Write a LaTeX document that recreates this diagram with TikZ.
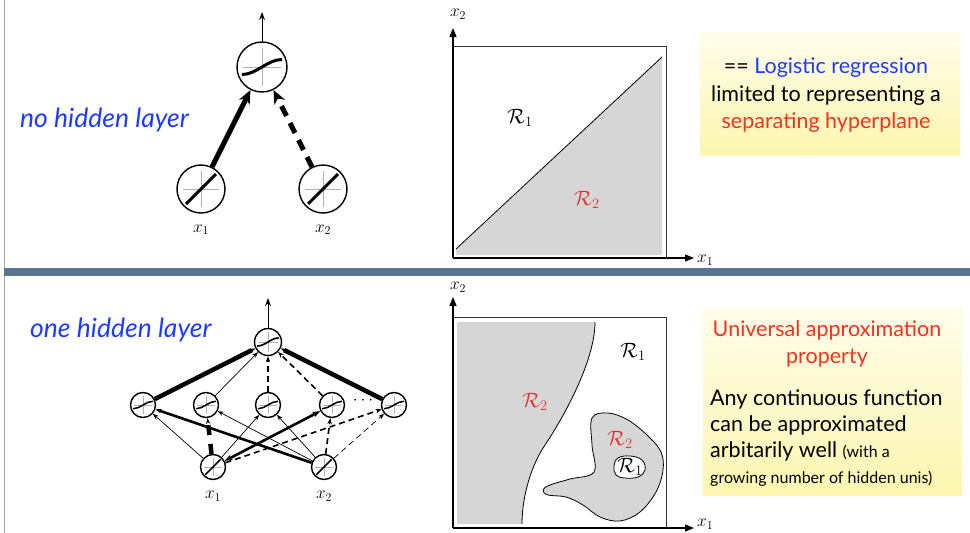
\documentclass[tikz,border=0pt]{standalone}
\usepackage{fontspec}
\setmainfont{Lato}
\usepackage{tikz}
\usetikzlibrary{arrows.meta,positioning,calc}
\definecolor{NetBlue}{HTML}{1E3CFF}
\definecolor{NetRed}{HTML}{F5321E}
\definecolor{RegRed}{HTML}{E0342E}
\definecolor{RegGray}{HTML}{D6D6D6}
\definecolor{BarSlate}{HTML}{5A7391}
\definecolor{NoteTop}{HTML}{FFFDEB}
\definecolor{NoteBot}{HTML}{FCF6B0}
\tikzset{
  neuron/.style={circle,draw,line width=1.4pt,fill=white,inner sep=0pt,minimum size=2*#1},
  inneuron/.style={neuron=#1,path picture={
      \begin{scope}[shift={(path picture bounding box.center)},x=#1pt,y=-#1pt]
        \draw[gray!60,line width=.8pt] (-.75,0)--(.75,0) (0,-.75)--(0,.75);
        \draw[line width=.12pt*#1] (-.62,.62)--(.62,-.62);
      \end{scope}}},
  signeuron/.style={neuron=#1,path picture={
      \begin{scope}[shift={(path picture bounding box.center)},x=#1pt,y=-#1pt]
        \draw[gray!60,line width=.8pt] (-.75,0)--(.75,0) (0,-.75)--(0,.75);
        \draw[line width=.12pt*#1] (-.8,.3) .. controls (-.2,.3) and (.2,-.3) .. (.8,-.3);
      \end{scope}}},
  bigwire/.style={-{Stealth[length=14pt,width=12pt,line width=0pt]},line width=5pt},
  wire/.style={-{Stealth[length=6pt,width=4.5pt,line width=0pt]},line width=.7pt},
  wmid/.style={wire,line width=1.6pt},
  wthick/.style={wire,line width=2.6pt},
  wheavy/.style={wire,line width=4.5pt},
  dashes/.style={dash pattern=on 6pt off 4pt},
  outwire/.style={-{Stealth[length=8pt,width=6pt,line width=0pt]},line width=.8pt},
  axis/.style={line width=1.3pt,-{Triangle[length=9pt,width=7pt]}},
  lab/.style={inner sep=0pt,font=\fontsize{17}{17}\selectfont},
  reg/.style={inner sep=0pt,font=\fontsize{20}{20}\selectfont},
  title/.style={inner sep=0pt,anchor=west,text=NetBlue,font=\fontsize{26.5}{30}\selectfont\itshape},
  notefill/.style={top color=NoteTop,bottom color=NoteBot},
  notetext/.style={inner sep=0pt,font=\fontsize{21.5}{27.5}\selectfont}
}
\begin{document}
\begin{tikzpicture}[x=1pt,y=-1pt]
  \useasboundingbox (0,0) rectangle (970,533);
  \draw[gray!70,line width=1pt] (4,0) -- (4,533);
  \fill[BarSlate] (4,268) rectangle (970,276);

  % no hidden layer
  \node[title] (nohidden) at (20,120) {no hidden layer};
  \node[inneuron=24] (in1) at (201,189) {};
  \node[inneuron=24] (in2) at (323,189) {};
  \node[signeuron=25] (out) at (262,67) {};
  \coordinate (outtip) at (262,12);
  \node[lab,below=11pt of in1] (lx1) {$x_1$};
  \node[lab,below=11pt of in2] (lx2) {$x_2$};
  \draw[outwire] (out) -- (outtip);
  \draw[bigwire] (in1) -- (out);
  \draw[bigwire,dash pattern=on 11pt off 8pt] (in2) -- (out);

  % linear decision boundary
  \fill[RegGray] (456,249) -- (662,57) -- (662,255) -- (456,255) -- cycle;
  \draw[line width=.8pt] (456,249) -- (662,57);
  \draw[black!80,line width=1pt] (453,46) rectangle (666,258);
  \coordinate (o1) at (453,258);
  \coordinate (ya) at (453,28);
  \coordinate (xa) at (694,258);
  \draw[axis] (o1) -- (ya);
  \draw[axis] (o1) -- (xa);
  \node[lab] (ax2) at (458,14) {$x_2$};
  \node[lab,anchor=west] (ax1) at (697,260) {$x_1$};
  \node[reg] (ra1) at (520,118) {$\mathcal{R}_1$};
  \node[reg,text=RegRed] (ra2) at (587,200) {$\mathcal{R}_2$};

  \fill[notefill] (700,32) rectangle (960,155);
  \node[notetext,align=center] (hyp) at (826,95.5)
    {== \textcolor{NetBlue}{Logistic regression}\\limited to representing a\\\textcolor{NetRed}{separating hyperplane}};

  % one hidden layer
  \node[title] (onehidden) at (30,330) {one hidden layer};
  \node[signeuron=13.5] (o) at (268,342) {};
  \foreach \i/\x in {1/143,2/206,3/268,4/332,5/394}
    \node[signeuron=12.5] (h\i) at (\x,405) {};
  \node[inneuron=12.5] (b1) at (213,467) {};
  \node[inneuron=12.5] (b2) at (324,467) {};
  \node[lab,below=11pt of b1] (lb1) {$x_1$};
  \node[lab,below=11pt of b2] (lb2) {$x_2$};
  \node[inner sep=0pt,font=\fontsize{18}{18}\selectfont] (dots) at (363,401) {$\cdots$};
  \coordinate (otip) at (268,298);
  \draw[outwire] (o) -- (otip);
  \draw[wheavy] (h1) -- (o);
  \draw[wire] (h2) -- (o);
  \draw[wmid,dashes] (h3) -- (o);
  \draw[wmid,dashes] (h4) -- (o);
  \draw[wheavy] (h5) -- (o);
  \draw[wire] (b1) -- (h1);
  \draw[wheavy,dash pattern=on 10pt off 9pt] (b1) -- (h2);
  \draw[wire] (b1) -- (h3);
  \draw[wthick,{Stealth[length=8pt,width=6pt,line width=0pt]}-{Stealth[length=8pt,width=6pt,line width=0pt]}] (b1) -- (h4);
  \draw[wmid,dashes] (b1) -- (h5);
  \draw[wthick] (b2) -- (h1);
  \draw[wire] (b2) -- (h2);
  \draw[wire] (b2) -- (h3);
  \draw[wmid,dashes] (b2) -- (h4);
  \draw[wire,dashes] (b2) -- (h5);

  % nonlinear decision regions
  \fill[RegGray] (457,322) -- (595,322) .. controls (595,360) and (565,415) .. (545,445)
    .. controls (532,464) and (522,495) .. (522,524) -- (457,524) -- cycle;
  \draw[line width=.8pt] (595,322) .. controls (595,360) and (565,415) .. (545,445)
    .. controls (532,464) and (522,495) .. (522,524);
  \draw[line width=.8pt,fill=RegGray] plot[smooth cycle,tension=.6] coordinates {
    (592,418) (608,413) (628,420) (648,436) (661,452) (663,470) (656,492) (640,512)
    (620,521) (600,517) (583,505) (566,497) (548,495) (543,490) (550,485) (570,479)
    (594,472) (592,445)};
  \draw[line width=.8pt,fill=white] plot[smooth cycle,tension=.7] coordinates {
    (614,466) (618,458) (630,456) (642,460) (645,470) (638,477) (625,478) (616,475)};
  \draw[black!80,line width=1pt] (453,317) rectangle (666,528);
  \coordinate (o2) at (453,528);
  \coordinate (yb) at (453,297);
  \coordinate (xb) at (694,528);
  \draw[axis] (o2) -- (yb);
  \draw[axis] (o2) -- (xb);
  \node[lab] (bx2) at (458,287) {$x_2$};
  \node[lab,anchor=west] (bx1) at (697,524) {$x_1$};
  \node[reg] (rb1) at (633,352) {$\mathcal{R}_1$};
  \node[reg,text=RegRed] (rb2) at (535,402) {$\mathcal{R}_2$};
  \node[reg,text=RegRed] (rb3) at (620,440) {$\mathcal{R}_2$};
  \node[reg] (rb4) at (630,467) {$\mathcal{R}_1$};

  \fill[notefill] (703,307) rectangle (962,495);
  \node[notetext,align=center,text=NetRed] (unititle) at (827,344)
    {Universal approximation\\property};
  \node[notetext,align=left,anchor=north west,font=\fontsize{21.5}{26}\selectfont] (unibody) at (710,390)
    {Any continuous function\\can be approximated\\arbitarily well {\fontsize{16}{26}\selectfont (with a}\\{\fontsize{16}{26}\selectfont growing number of hidden unis)}};
\end{tikzpicture}
\end{document}
